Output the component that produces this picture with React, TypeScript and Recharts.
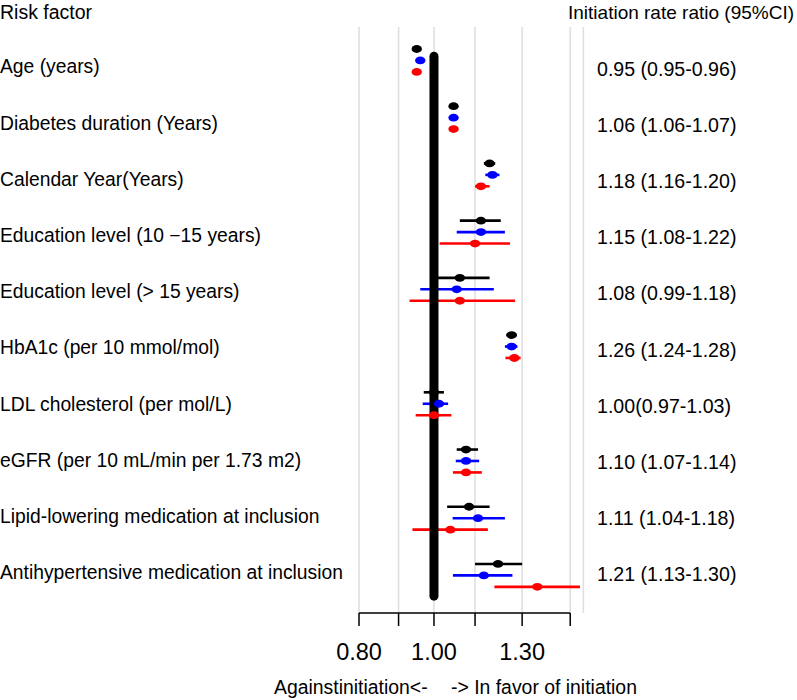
import {
  CartesianGrid,
  ComposedChart,
  ErrorBar,
  ReferenceLine,
  Scatter,
  XAxis,
  YAxis,
} from 'recharts';

// Risk factors, top to bottom
const factors = [
  'Age (years)',
  'Diabetes duration (Years)',
  'Calendar Year(Years)',
  'Education level (10 \u221215 years)',
  'Education level (> 15 years)',
  'HbA1c (per 10 mmol/mol)',
  'LDL cholesterol (per mol/L)',
  'eGFR (per 10 mL/min per 1.73 m2)',
  'Lipid\u2010lowering medication at inclusion',
  'Antihypertensive medication at inclusion',
];

const ciText = [
  '0.95 (0.95-0.96)',
  '1.06 (1.06-1.07)',
  '1.18 (1.16-1.20)',
  '1.15 (1.08-1.22)',
  '1.08 (0.99-1.18)',
  '1.26 (1.24-1.28)',
  '1.00(0.97-1.03)',
  '1.10 (1.07-1.14)',
  '1.11 (1.04-1.18)',
  '1.21 (1.13-1.30)',
];

// three estimates per factor (black / blue / red), with 95% CI
const blackEst = [0.95, 1.06, 1.18, 1.15, 1.08, 1.26, 1.0, 1.1, 1.11, 1.21];
const blackLo = [0.945, 1.055, 1.16, 1.08, 0.99, 1.24, 0.97, 1.07, 1.04, 1.13];
const blackHi = [0.955, 1.065, 1.2, 1.22, 1.18, 1.28, 1.03, 1.14, 1.18, 1.3];

const blueEst = [0.96, 1.06, 1.19, 1.15, 1.07, 1.26, 1.015, 1.1, 1.14, 1.16];
const blueLo = [0.955, 1.055, 1.165, 1.07, 0.96, 1.235, 0.967, 1.067, 1.057, 1.058];
const blueHi = [0.965, 1.065, 1.215, 1.235, 1.195, 1.282, 1.043, 1.144, 1.235, 1.263];

const redEst = [0.95, 1.06, 1.15, 1.13, 1.08, 1.27, 1.0, 1.1, 1.05, 1.36];
const redLo = [0.945, 1.055, 1.13, 1.017, 0.93, 1.237, 0.947, 1.058, 0.938, 1.197];
const redHi = [0.955, 1.065, 1.18, 1.254, 1.273, 1.294, 1.053, 1.153, 1.174, 1.544];

const xTicks = [0.8, 0.9, 1.0, 1.13, 1.3, 1.5];
const xTickLabels = ['0.80', '', '1.00', '', '1.30', ''];

const FONT = '"Liberation Sans", Arial, sans-serif';

const SERIES = [
  { name: 'black', color: '#000000', est: blackEst, lo: blackLo, hi: blackHi, offset: 0 },
  { name: 'blue', color: '#0000ff', est: blueEst, lo: blueLo, hi: blueHi, offset: 0.2 },
  { name: 'red', color: '#ff0000', est: redEst, lo: redLo, hi: redHi, offset: 0.4 },
];

const rowIdx = factors.map((_, i) => i);

function buildRows(s: (typeof SERIES)[number]) {
  return s.est.map((v, i) => ({
    v,
    row: i + s.offset,
    err: [v - s.lo[i], s.hi[i] - v],
  }));
}

const NameTick = (props: any) => (
  <text x={0} y={props.y} fontSize={19.3} fontFamily={FONT} fill="#000">
    {factors[props.payload.value]}
  </text>
);

const CiTick = (props: any) => (
  <text x={597} y={props.y} fontSize={19.6} fontFamily={FONT} fill="#000">
    {ciText[props.payload.value]}
  </text>
);

export default function App() {
  return (
    <div style={{ position: 'absolute', left: 0, top: 0, width: 797, height: 700, background: '#fff' }}>
      <ComposedChart width={797} height={700} margin={{ top: 27, right: 0, bottom: 0, left: 0 }}>
        <CartesianGrid yAxisId="dots" horizontal={false} stroke="#dedede" strokeWidth={1.5} />
        <XAxis
          dataKey="v"
          type="number"
          scale="log"
          domain={[0.8, 1.56]}
          allowDataOverflow
          ticks={xTicks}
          interval={0}
          tickFormatter={(v: number) => xTickLabels[xTicks.indexOf(v)] ?? ''}
          axisLine={false}
          tickLine={{ stroke: '#000', strokeWidth: 1.5 }}
          tickSize={13}
          tickMargin={17}
          height={87}
          tick={{ fill: '#000', fontSize: 23.5, fontFamily: FONT }}
        />
        <YAxis
          yAxisId="dots"
          dataKey="row"
          type="number"
          domain={[-0.3845, 9.857]}
          reversed
          allowDataOverflow
          hide
        />
        <YAxis
          yAxisId="names"
          orientation="left"
          type="number"
          domain={[-0.824, 9.603]}
          reversed
          allowDataOverflow
          ticks={rowIdx}
          interval={0}
          width={359}
          axisLine={false}
          tickLine={false}
          tick={<NameTick />}
        />
        <YAxis
          yAxisId="ci"
          orientation="right"
          type="number"
          domain={[-0.863, 9.564]}
          reversed
          allowDataOverflow
          ticks={rowIdx}
          interval={0}
          width={213.6}
          axisLine={false}
          tickLine={false}
          tick={<CiTick />}
        />
        {SERIES.map((s) => (
          <Scatter
            key={s.name}
            yAxisId="dots"
            data={buildRows(s)}
            fill={s.color}
            isAnimationActive={false}
            shape={(p: any) => <ellipse cx={p.cx} cy={p.cy} rx={5.2} ry={3.9} fill={s.color} />}
          >
            <ErrorBar dataKey="err" direction="x" width={0} stroke={s.color} strokeWidth={2.6} />
          </Scatter>
        ))}
        <ReferenceLine
          yAxisId="dots"
          segment={[
            { x: 0.8, y: 9.857 },
            { x: 1.5, y: 9.857 },
          ]}
          stroke="#000"
          strokeWidth={1.5}
        />
        <ReferenceLine
          yAxisId="dots"
          segment={[
            { x: 1, y: 0.126 },
            { x: 1, y: 9.563 },
          ]}
          stroke="#000"
          strokeWidth={9}
          strokeLinecap="round"
        />
      </ComposedChart>
      <svg
        width={797}
        height={700}
        style={{ position: 'absolute', left: 0, top: 0, pointerEvents: 'none' }}
        fontFamily={FONT}
      >
        <text x={0} y={18.5} fontSize={19.5} fill="#000">
          Risk factor
        </text>
        <text x={794} y={18.5} fontSize={19} fill="#000" textAnchor="end">
          Initiation rate ratio (95%CI)
        </text>
        <text x={274} y={694} fontSize={19.4} fill="#000">
          Againstinitiation&lt;-
        </text>
        <text x={451} y={694} fontSize={19.4} fill="#000">
          -&gt; In favor of initiation
        </text>
      </svg>
    </div>
  );
}
